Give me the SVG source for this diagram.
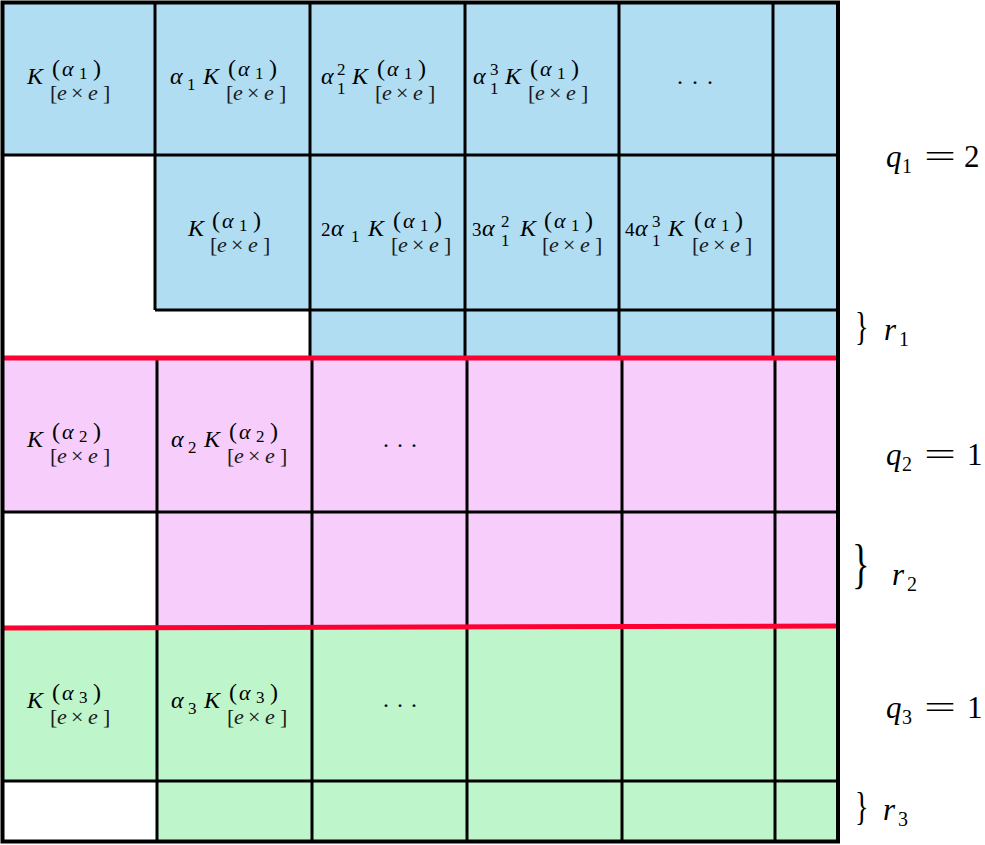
<svg xmlns="http://www.w3.org/2000/svg" width="985" height="845" viewBox="0 0 985 845">
<style>
text{font-family:"Liberation Serif","DejaVu Serif",serif;fill:#000}
.i{font-style:italic}
.b{font-size:24px}
.a{font-size:24px}
.sp{font-size:24px}
.sa{font-size:22px}
.s{font-size:17px}
.d{font-size:17px}
.c{font-size:19px}
.sb{font-size:22px;fill:#1a1a1a}
.dots{font-size:24px}
.q{font-size:31px}
.qs{font-size:20px}
.br{font-size:28px}
.grid line{stroke:#000;stroke-width:3}
.sep line{stroke:#ff0033;stroke-width:5}
</style>
<rect width="985" height="845" fill="#fff"/>
<g id="fills">
<path fill="#b0ddf2" d="M3 3H838V357H310V310H155V155H3Z"/>
<path fill="#f7cefb" d="M3 357H838V627H157V512H3Z"/>
<path fill="#bff5cb" d="M3 627H838V842H157V781H3Z"/>
</g>
<g id="grid" class="grid">
<line x1="3" y1="155" x2="838" y2="155"/>
<line x1="155" y1="310" x2="838" y2="310"/>
<line x1="155" y1="3" x2="155" y2="310"/>
<line x1="310" y1="3" x2="310" y2="357"/>
<line x1="465" y1="3" x2="465" y2="357"/>
<line x1="619" y1="3" x2="619" y2="357"/>
<line x1="773" y1="3" x2="773" y2="357"/>
<line x1="3" y1="512" x2="838" y2="512"/>
<line x1="157" y1="357" x2="157" y2="842"/>
<line x1="312" y1="357" x2="312" y2="842"/>
<line x1="467" y1="357" x2="467" y2="842"/>
<line x1="622" y1="357" x2="622" y2="842"/>
<line x1="775" y1="357" x2="775" y2="842"/>
<line x1="3" y1="781" x2="838" y2="781"/>
</g>
<g id="connectors" class="sep">
<line x1="3" y1="358" x2="838" y2="358"/>
<line x1="3" y1="628" x2="838" y2="626"/>
</g>
<rect id="frame" x="2.5" y="2.5" width="835.5" height="839" fill="none" stroke="#000" stroke-width="4"/>

<!-- Block 1, row 1 -->
<g id="b1-r1-c1">
<text><tspan class="b i" x="27" y="84">K</tspan><tspan class="sp" x="52" y="76">(</tspan><tspan class="sa i" x="62" y="76">α</tspan><tspan class="s" x="79" y="79">1</tspan><tspan class="sp" x="93" y="76">)</tspan><tspan class="sb" x="50" y="100">[</tspan><tspan class="sb i" x="57" y="100">e</tspan><tspan class="sb" x="71" y="100">×</tspan><tspan class="sb i" x="88" y="100">e</tspan><tspan class="sb" x="103" y="100">]</tspan></text>
</g>
<g id="b1-r1-c2">
<text><tspan class="a i" x="170" y="84">α</tspan><tspan class="d" x="187" y="90">1</tspan><tspan class="b i" x="203" y="84">K</tspan><tspan class="sp" x="228" y="76">(</tspan><tspan class="sa i" x="238" y="76">α</tspan><tspan class="s" x="255" y="79">1</tspan><tspan class="sp" x="269" y="76">)</tspan><tspan class="sb" x="226" y="100">[</tspan><tspan class="sb i" x="233" y="100">e</tspan><tspan class="sb" x="247" y="100">×</tspan><tspan class="sb i" x="264" y="100">e</tspan><tspan class="sb" x="279" y="100">]</tspan></text>
</g>
<g id="b1-r1-c3">
<text><tspan class="a i" x="321" y="84">α</tspan><tspan class="d" x="337" y="75">2</tspan><tspan class="d" x="337" y="94">1</tspan><tspan class="b i" x="352" y="84">K</tspan><tspan class="sp" x="377" y="76">(</tspan><tspan class="sa i" x="387" y="76">α</tspan><tspan class="s" x="404" y="79">1</tspan><tspan class="sp" x="418" y="76">)</tspan><tspan class="sb" x="375" y="100">[</tspan><tspan class="sb i" x="382" y="100">e</tspan><tspan class="sb" x="396" y="100">×</tspan><tspan class="sb i" x="413" y="100">e</tspan><tspan class="sb" x="428" y="100">]</tspan></text>
</g>
<g id="b1-r1-c4">
<text><tspan class="a i" x="473" y="84">α</tspan><tspan class="d" x="490" y="75">3</tspan><tspan class="d" x="490" y="94">1</tspan><tspan class="b i" x="505" y="84">K</tspan><tspan class="sp" x="530" y="76">(</tspan><tspan class="sa i" x="540" y="76">α</tspan><tspan class="s" x="557" y="79">1</tspan><tspan class="sp" x="571" y="76">)</tspan><tspan class="sb" x="528" y="100">[</tspan><tspan class="sb i" x="535" y="100">e</tspan><tspan class="sb" x="549" y="100">×</tspan><tspan class="sb i" x="566" y="100">e</tspan><tspan class="sb" x="581" y="100">]</tspan></text>
</g>
<g id="b1-r1-c5">
<text class="dots" x="677 692 707" y="84">...</text>
</g>

<!-- Block 1, row 2 -->
<g id="b1-r2-c2">
<text><tspan class="b i" x="188" y="236">K</tspan><tspan class="sp" x="212" y="228">(</tspan><tspan class="sa i" x="222" y="228">α</tspan><tspan class="s" x="239" y="231">1</tspan><tspan class="sp" x="253" y="228">)</tspan><tspan class="sb" x="210" y="252">[</tspan><tspan class="sb i" x="217" y="252">e</tspan><tspan class="sb" x="231" y="252">×</tspan><tspan class="sb i" x="248" y="252">e</tspan><tspan class="sb" x="263" y="252">]</tspan></text>
</g>
<g id="b1-r2-c3">
<text><tspan class="c" x="321" y="236">2</tspan><tspan class="a i" x="331" y="236">α</tspan><tspan class="d" x="351" y="242">1</tspan><tspan class="b i" x="368" y="236">K</tspan><tspan class="sp" x="393" y="228">(</tspan><tspan class="sa i" x="403" y="228">α</tspan><tspan class="s" x="420" y="231">1</tspan><tspan class="sp" x="434" y="228">)</tspan><tspan class="sb" x="391" y="252">[</tspan><tspan class="sb i" x="398" y="252">e</tspan><tspan class="sb" x="412" y="252">×</tspan><tspan class="sb i" x="429" y="252">e</tspan><tspan class="sb" x="444" y="252">]</tspan></text>
</g>
<g id="b1-r2-c4">
<text><tspan class="c" x="472" y="236">3</tspan><tspan class="a i" x="482" y="236">α</tspan><tspan class="d" x="501" y="227">2</tspan><tspan class="d" x="501" y="246">1</tspan><tspan class="b i" x="520" y="236">K</tspan><tspan class="sp" x="544" y="228">(</tspan><tspan class="sa i" x="554" y="228">α</tspan><tspan class="s" x="571" y="231">1</tspan><tspan class="sp" x="585" y="228">)</tspan><tspan class="sb" x="542" y="252">[</tspan><tspan class="sb i" x="549" y="252">e</tspan><tspan class="sb" x="563" y="252">×</tspan><tspan class="sb i" x="580" y="252">e</tspan><tspan class="sb" x="595" y="252">]</tspan></text>
</g>
<g id="b1-r2-c5">
<text><tspan class="c" x="625" y="236">4</tspan><tspan class="a i" x="635" y="236">α</tspan><tspan class="d" x="652" y="227">3</tspan><tspan class="d" x="652" y="246">1</tspan><tspan class="b i" x="668" y="236">K</tspan><tspan class="sp" x="694" y="228">(</tspan><tspan class="sa i" x="704" y="228">α</tspan><tspan class="s" x="721" y="231">1</tspan><tspan class="sp" x="735" y="228">)</tspan><tspan class="sb" x="692" y="252">[</tspan><tspan class="sb i" x="699" y="252">e</tspan><tspan class="sb" x="713" y="252">×</tspan><tspan class="sb i" x="730" y="252">e</tspan><tspan class="sb" x="745" y="252">]</tspan></text>
</g>

<!-- Block 2 -->
<g id="b2-r1-c1">
<text><tspan class="b i" x="27" y="447">K</tspan><tspan class="sp" x="52" y="439">(</tspan><tspan class="sa i" x="62" y="439">α</tspan><tspan class="s" x="79" y="442">2</tspan><tspan class="sp" x="93" y="439">)</tspan><tspan class="sb" x="50" y="463">[</tspan><tspan class="sb i" x="57" y="463">e</tspan><tspan class="sb" x="71" y="463">×</tspan><tspan class="sb i" x="88" y="463">e</tspan><tspan class="sb" x="103" y="463">]</tspan></text>
</g>
<g id="b2-r1-c2">
<text><tspan class="a i" x="171" y="447">α</tspan><tspan class="d" x="188" y="453">2</tspan><tspan class="b i" x="204" y="447">K</tspan><tspan class="sp" x="229" y="439">(</tspan><tspan class="sa i" x="239" y="439">α</tspan><tspan class="s" x="256" y="442">2</tspan><tspan class="sp" x="270" y="439">)</tspan><tspan class="sb" x="227" y="463">[</tspan><tspan class="sb i" x="234" y="463">e</tspan><tspan class="sb" x="248" y="463">×</tspan><tspan class="sb i" x="265" y="463">e</tspan><tspan class="sb" x="280" y="463">]</tspan></text>
</g>
<g id="b2-r1-c3">
<text class="dots" x="383 397 411" y="447">...</text>
</g>

<!-- Block 3 -->
<g id="b3-r1-c1">
<text><tspan class="b i" x="27" y="708">K</tspan><tspan class="sp" x="52" y="700">(</tspan><tspan class="sa i" x="62" y="700">α</tspan><tspan class="s" x="79" y="703">3</tspan><tspan class="sp" x="93" y="700">)</tspan><tspan class="sb" x="50" y="724">[</tspan><tspan class="sb i" x="57" y="724">e</tspan><tspan class="sb" x="71" y="724">×</tspan><tspan class="sb i" x="88" y="724">e</tspan><tspan class="sb" x="103" y="724">]</tspan></text>
</g>
<g id="b3-r1-c2">
<text><tspan class="a i" x="171" y="708">α</tspan><tspan class="d" x="188" y="714">3</tspan><tspan class="b i" x="204" y="708">K</tspan><tspan class="sp" x="229" y="700">(</tspan><tspan class="sa i" x="239" y="700">α</tspan><tspan class="s" x="256" y="703">3</tspan><tspan class="sp" x="270" y="700">)</tspan><tspan class="sb" x="227" y="724">[</tspan><tspan class="sb i" x="234" y="724">e</tspan><tspan class="sb" x="248" y="724">×</tspan><tspan class="sb i" x="265" y="724">e</tspan><tspan class="sb" x="280" y="724">]</tspan></text>
</g>
<g id="b3-r1-c3">
<text class="dots" x="383 397 411" y="707">...</text>
</g>

<!-- Right-hand labels -->
<g id="q1">
<text class="q"><tspan class="i" x="886" y="167">q</tspan><tspan class="qs" x="902" y="173">1</tspan><tspan x="964" y="167">2</tspan></text>
<text class="q" x="924" y="167" textLength="32" lengthAdjust="spacingAndGlyphs">=</text>
</g>
<g id="r1">
<text class="br" transform="translate(855,340) scale(1,1.45)">}</text>
<text class="q"><tspan class="i" x="884" y="340">r</tspan><tspan class="qs" x="899" y="346">1</tspan></text>
</g>
<g id="q2">
<text class="q"><tspan class="i" x="886" y="465">q</tspan><tspan class="qs" x="902" y="471">2</tspan><tspan x="967" y="465">1</tspan></text>
<text class="q" x="924" y="465" textLength="32" lengthAdjust="spacingAndGlyphs">=</text>
</g>
<g id="r2">
<text class="br" transform="translate(852,582) scale(1.3,1.95)">}</text>
<text class="q"><tspan class="i" x="892" y="585">r</tspan><tspan class="qs" x="907" y="591">2</tspan></text>
</g>
<g id="q3">
<text class="q"><tspan class="i" x="886" y="718">q</tspan><tspan class="qs" x="902" y="724">3</tspan><tspan x="967" y="718">1</tspan></text>
<text class="q" x="924" y="718" textLength="32" lengthAdjust="spacingAndGlyphs">=</text>
</g>
<g id="r3">
<text class="br" transform="translate(855,820) scale(1,1.45)">}</text>
<text class="q"><tspan class="i" x="883" y="820">r</tspan><tspan class="qs" x="898" y="826">3</tspan></text>
</g>
</svg>
